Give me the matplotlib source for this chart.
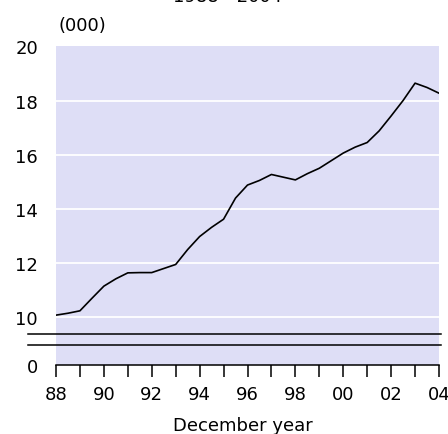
import matplotlib
matplotlib.use("Agg")
import matplotlib.pyplot as plt
import matplotlib.transforms as mtransforms

plt.rcParams['font.family'] = ['DejaVu Sans']

# half-yearly values, thousands
years = [1988.0, 1988.5, 1989.0, 1989.5, 1990.0, 1990.5, 1991.0, 1991.5,
         1992.0, 1992.5, 1993.0, 1993.5, 1994.0, 1994.5, 1995.0, 1995.5,
         1996.0, 1996.5, 1997.0, 1997.5, 1998.0, 1998.5, 1999.0, 1999.5,
         2000.0, 2000.5, 2001.0, 2001.5, 2002.0, 2002.5, 2003.0, 2003.5,
         2004.0]
values = [10.08, 10.15, 10.24, 10.70, 11.15, 11.42, 11.64, 11.65,
          11.65, 11.80, 11.95, 12.50, 12.98, 13.32, 13.62, 14.40,
          14.88, 15.05, 15.27, 15.17, 15.07, 15.30, 15.50, 15.78,
          16.06, 16.28, 16.45, 16.88, 17.43, 18.00, 18.64, 18.48,
          18.27]

y_grid = [10, 12, 14, 16, 18]
y_ticks = [8.24, 10, 12, 14, 16, 18, 20]
y_ticklabels = ['0', '10', '12', '14', '16', '18', '20']
x_ticks = list(range(1988, 2005))
x_labels = [f"{y % 100:02d}" if y % 2 == 0 else '' for y in x_ticks]
break_levels = [9.38, 8.99]

fig = plt.figure(figsize=(4.48, 4.35), dpi=100)
ax = fig.add_axes([56 / 448, 1 - 366 / 435, 383 / 448, (366 - 47.3) / 435])
ax.set_facecolor('#dedef6')

for g in y_grid:
    ax.axhline(g, color='white', lw=1.3, zorder=1)

ax.plot(years, values, color='black', lw=1.2, zorder=3)

# axis break marks
trans = mtransforms.blended_transform_factory(ax.transAxes, ax.transData)
for b in break_levels:
    ax.plot([-0.073, 1.005], [b, b], color='black', lw=1.1,
            transform=trans, clip_on=False, zorder=4)

ax.set_xlim(1988, 2004)
ax.set_ylim(8.24, 20)
ax.set_yticks(y_ticks)
ax.set_yticklabels(y_ticklabels)
ax.set_xticks(x_ticks)
ax.set_xticklabels(x_labels)

for s in ['top', 'right', 'left']:
    ax.spines[s].set_visible(False)
ax.spines['bottom'].set_color('black')
ax.spines['bottom'].set_linewidth(1.1)

ax.tick_params(axis='y', length=0, pad=13, labelsize=13)
ax.tick_params(axis='x', direction='out', length=8.5, width=1.1,
               color='black', pad=6, labelsize=13)

fig.text(58 / 448, 1 - 26 / 435, '(000)', fontsize=13, ha='left', va='center')
fig.text(243 / 448, 1 - 426 / 435, 'December year', fontsize=13,
         ha='center', va='center')
fig.text(228 / 448, 1 - 2 / 435, '1988 - 2004', fontsize=13,
         ha='center', va='baseline')

fig.savefig('out.png', dpi=100)
